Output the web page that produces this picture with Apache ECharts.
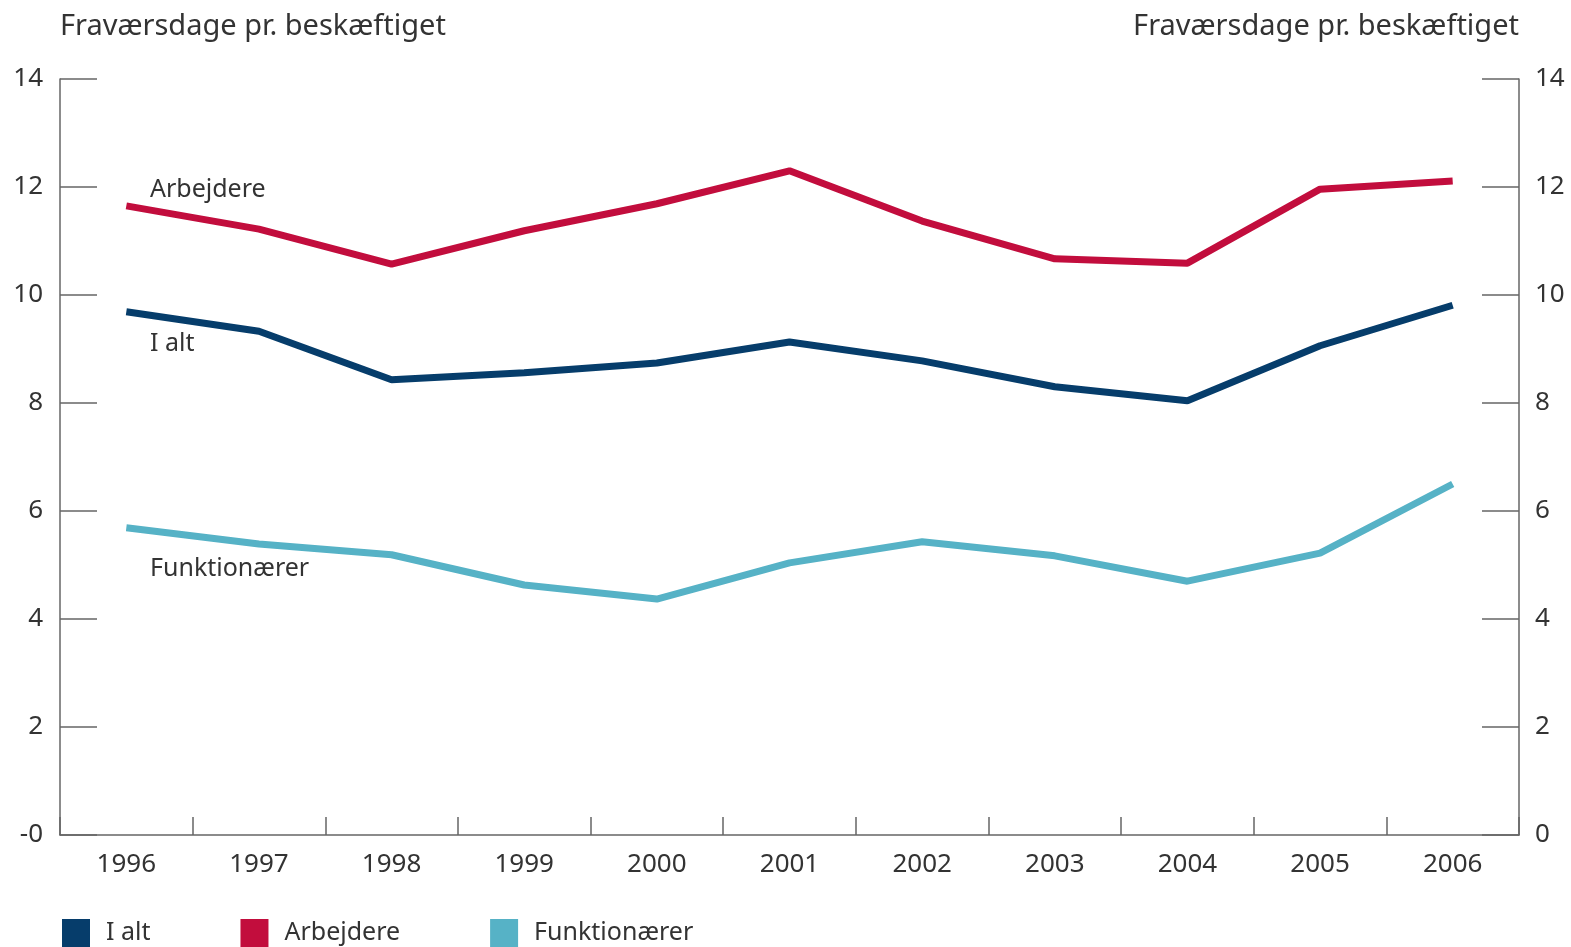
<!DOCTYPE html>
<html><head><meta charset="utf-8">
<script src="https://cdn.jsdelivr.net/npm/echarts@6/dist/echarts.min.js"></script>
<style>html,body{margin:0;padding:0;background:#fff}#c{width:1571px;height:947px}</style>
</head><body><div id="c"></div>
<script>
const years = ['1996','1997','1998','1999','2000','2001','2002','2003','2004','2005','2006'];
const iAlt = [9.69, 9.33, 8.43, 8.56, 8.74, 9.13, 8.78, 8.30, 8.04, 9.06, 9.81];
const arbejdere = [11.65, 11.22, 10.57, 11.19, 11.69, 12.30, 11.37, 10.67, 10.59, 11.96, 12.11];
const funktionaerer = [5.69, 5.39, 5.19, 4.63, 4.37, 5.04, 5.43, 5.17, 4.70, 5.22, 6.50];
const yTicks = [0, 2, 4, 6, 8, 10, 12, 14];
const axisName = 'Fraværsdage pr. beskæftiget';

const FONT = '"Noto Sans", sans-serif';
const TXT = '#333';
const AX = '#666';
const colors = {iAlt:'#063d6b', arb:'#c20d3d', funk:'#56b2c6'};

const chart = echarts.init(document.getElementById('c'));
const yAxisBase = {
  type: 'value', min: yTicks[0], max: yTicks[yTicks.length-1], interval: 2,
  axisLine: {show: true, lineStyle: {color: AX, width: 1.5}},
  axisTick: {show: true, inside: true, length: 37, lineStyle: {color: AX, width: 1.5}},
  splitLine: {show: false},
  nameLocation: 'end', nameGap: 38,
  axisLabel: {fontFamily: FONT, fontSize: 26, color: TXT}
};
chart.setOption({
  animation: false,
  textStyle: {fontFamily: FONT},
  grid: {left: 60, right: 52, top: 79, bottom: 112, containLabel: false},
  xAxis: {
    type: 'category', data: years, boundaryGap: true,
    axisLine: {lineStyle: {color: AX, width: 1.5}},
    axisTick: {show: true, inside: true, length: 18, lineStyle: {color: AX, width: 1.5}},
    axisLabel: {fontFamily: FONT, fontSize: 26, color: TXT, margin: 17}
  },
  yAxis: [
    Object.assign({}, yAxisBase, {position: 'left', name: axisName,
      nameTextStyle: {fontFamily: FONT, fontSize: 29, color: TXT, align: 'left', padding: [0,0,0,0]},
      axisLabel: Object.assign({}, yAxisBase.axisLabel, {margin: 17, formatter: v => v === 0 ? '-0' : String(v)})}),
    Object.assign({}, yAxisBase, {position: 'right', name: axisName,
      nameTextStyle: {fontFamily: FONT, fontSize: 29, color: TXT, align: 'right', padding: [0,0,0,0]},
      axisLabel: Object.assign({}, yAxisBase.axisLabel, {margin: 16})})
  ],
  legend: {
    left: 62, bottom: 0, padding: 0, icon: 'rect', itemWidth: 28, itemHeight: 28, itemGap: 90,
    textStyle: {fontFamily: FONT, fontSize: 25, color: TXT, padding: [0,0,0,11]},
    data: ['I alt', 'Arbejdere', 'Funktionærer']
  },
  series: [
    {name: 'I alt', type: 'line', data: iAlt, color: colors.iAlt, symbol: 'none', lineStyle: {width: 7, color: colors.iAlt}},
    {name: 'Arbejdere', type: 'line', data: arbejdere, color: colors.arb, symbol: 'none', lineStyle: {width: 7, color: colors.arb}},
    {name: 'Funktionærer', type: 'line', data: funktionaerer, color: colors.funk, symbol: 'none', lineStyle: {width: 7, color: colors.funk}}
  ],
  graphic: [
    {type: 'text', left: 150, top: 177, style: {text: 'Arbejdere', font: '25px ' + FONT, fill: TXT}},
    {type: 'text', left: 150, top: 331, style: {text: 'I alt', font: '25px ' + FONT, fill: TXT}},
    {type: 'text', left: 150, top: 556, style: {text: 'Funktionærer', font: '25px ' + FONT, fill: TXT}}
  ]
});
</script></body></html>
